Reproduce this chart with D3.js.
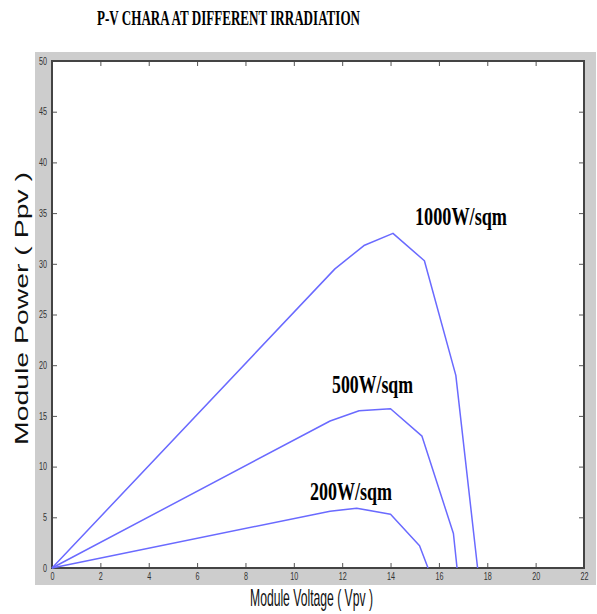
<!DOCTYPE html>
<html>
<head>
<meta charset="utf-8">
<script src="https://cdn.jsdelivr.net/npm/d3@7"></script>
<style>
  body { margin: 0; background: #fff; }
  svg { display: block; }
</style>
</head>
<body>
<div id="chart"></div>
<script>
const TITLE = "P-V CHARA AT DIFFERENT IRRADIATION";
const X_TICKS = [0, 2, 4, 6, 8, 10, 12, 14, 16, 18, 20, 22];
const Y_TICKS = [0, 5, 10, 15, 20, 25, 30, 35, 40, 45, 50];

// voltage / power pairs
const V_1000 = [0, 11.7, 12.9, 14.1, 15.4, 16.7, 17.6];
const P_1000 = [0, 29.5, 31.8, 33.0, 30.3, 19.0, 0];
const V_500 = [0, 11.5, 12.7, 14.0, 15.3, 16.6, 16.75];
const P_500 = [0, 14.5, 15.5, 15.7, 13.0, 3.4, 0];
const V_200 = [0, 11.5, 12.6, 14.0, 15.2, 15.55];
const P_200 = [0, 5.6, 5.9, 5.3, 2.2, 0];

const SERIES = [
    { label: "1000W/sqm", v: V_1000, p: P_1000 },
    { label: "500W/sqm", v: V_500, p: P_500 },
    { label: "200W/sqm", v: V_200, p: P_200 },
];

const W = 597, H = 614;
const plot = { left: 52, right: 584, top: 61, bottom: 568 };

const svg = d3.select("#chart").append("svg")
    .attr("width", W).attr("height", H);

// ── grey figure backdrop + white axes ─────────────────────────────────────
svg.append("rect")
    .attr("x", 35).attr("y", 52).attr("width", 561).attr("height", 533)
    .attr("fill", "#cdcdcd");
svg.append("rect")
    .attr("x", plot.left).attr("y", plot.top)
    .attr("width", plot.right - plot.left).attr("height", plot.bottom - plot.top)
    .attr("fill", "#fff");

// ── Scales ────────────────────────────────────────────────────────────────
const x = d3.scaleLinear().domain([0, 22]).range([plot.left, plot.right]);
const y = d3.scaleLinear().domain([0, 50]).range([plot.bottom, plot.top]);

// ── Axes (ticks point inward, on all four sides) ──────────────────────────
const tickStyle = g => {
    g.select(".domain").remove();
    g.selectAll(".tick line").attr("stroke", "#555").attr("stroke-width", 1);
};
const tickText = g => g.selectAll("text")
    .attr("font-family", "Liberation Sans, Arial, sans-serif")
    .attr("font-size", 10).attr("fill", "#333")
    .attr("textLength", d => String(d).length * 4)
    .attr("lengthAdjust", "spacingAndGlyphs");

svg.append("g")
    .attr("transform", `translate(0,${plot.bottom})`)
    .call(d3.axisBottom(x).tickValues(X_TICKS).tickSizeInner(-5).tickSizeOuter(0).tickPadding(5))
    .call(tickStyle)
    .call(tickText);

svg.append("g")
    .attr("transform", `translate(0,${plot.top})`)
    .call(d3.axisTop(x).tickValues(X_TICKS).tickSizeInner(-5).tickSizeOuter(0).tickFormat(""))
    .call(tickStyle);

svg.append("g")
    .attr("transform", `translate(${plot.left},0)`)
    .call(d3.axisLeft(y).tickValues(Y_TICKS).tickSizeInner(-5).tickSizeOuter(0).tickPadding(5))
    .call(tickStyle)
    .call(tickText);

svg.append("g")
    .attr("transform", `translate(${plot.right},0)`)
    .call(d3.axisRight(y).tickValues(Y_TICKS).tickSizeInner(-5).tickSizeOuter(0).tickFormat(""))
    .call(tickStyle);

// frame
svg.append("rect")
    .attr("x", plot.left).attr("y", plot.top)
    .attr("width", plot.right - plot.left).attr("height", plot.bottom - plot.top)
    .attr("fill", "none").attr("stroke", "#444").attr("stroke-width", 2);

// ── Curves ────────────────────────────────────────────────────────────────
const line = d3.line().x(d => x(d[0])).y(d => y(d[1]));

SERIES.forEach(s => {
    svg.append("path")
        .datum(s.v.map((v, i) => [v, s.p[i]]))
        .attr("fill", "none")
        .attr("stroke", "#6a6aff")
        .attr("stroke-width", 1.5)
        .attr("stroke-linejoin", "round")
        .attr("d", line);
});

// ── Curve labels ──────────────────────────────────────────────────────────
const LABEL_POS = [
    { x: 415, y: 225, len: 92 },
    { x: 332, y: 393, len: 81 },
    { x: 310, y: 500, len: 82 },
];
SERIES.forEach((s, i) => {
    svg.append("text")
        .attr("x", LABEL_POS[i].x).attr("y", LABEL_POS[i].y)
        .attr("font-family", "Liberation Serif, Times New Roman, serif")
        .attr("font-weight", "bold").attr("font-size", 25)
        .attr("textLength", LABEL_POS[i].len)
        .attr("lengthAdjust", "spacingAndGlyphs")
        .text(s.label);
});

// ── Title and axis labels ─────────────────────────────────────────────────
svg.append("text")
    .attr("x", 97).attr("y", 25)
    .attr("font-family", "Liberation Serif, Times New Roman, serif")
    .attr("font-weight", "bold").attr("font-size", 21)
    .attr("textLength", 263).attr("lengthAdjust", "spacingAndGlyphs")
    .text(TITLE);

svg.append("text")
    .attr("x", 250).attr("y", 606)
    .attr("font-family", "Liberation Sans, Arial, sans-serif")
    .attr("font-size", 24).attr("fill", "#111")
    .attr("textLength", 123).attr("lengthAdjust", "spacingAndGlyphs")
    .text("Module Voltage ( Vpv )");

svg.append("text")
    .attr("transform", "translate(28,445) rotate(-90)")
    .attr("font-family", "Liberation Sans, Arial, sans-serif")
    .attr("font-size", 18).attr("fill", "#111")
    .attr("textLength", 273).attr("lengthAdjust", "spacingAndGlyphs")
    .text("Module Power ( Ppv )");
</script>
</body>
</html>
